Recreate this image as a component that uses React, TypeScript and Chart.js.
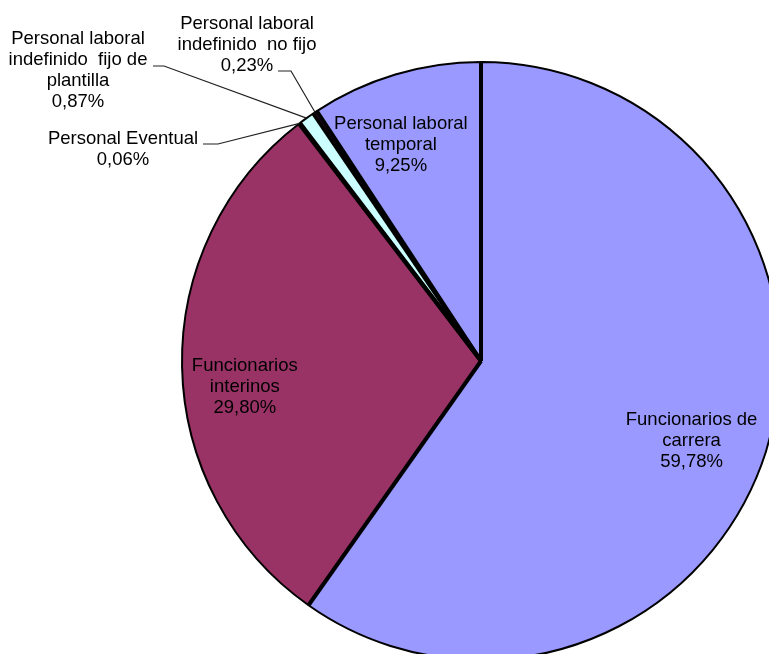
import React, { useEffect, useRef } from "react";
import { Chart, registerables } from "chart.js";

Chart.register(...registerables);

// ---- data ----
const categories = [
  "Funcionarios de carrera",
  "Funcionarios interinos",
  "Personal Eventual",
  "Personal laboral indefinido fijo de plantilla",
  "Personal laboral indefinido no fijo",
  "Personal laboral temporal",
];
const labelLines = [
  ["Funcionarios de", "carrera"],
  ["Funcionarios", "interinos"],
  ["Personal Eventual"],
  ["Personal laboral", "indefinido  fijo de", "plantilla"],
  ["Personal laboral", "indefinido  no fijo"],
  ["Personal laboral", "temporal"],
];
const values = [59.78, 29.8, 0.06, 0.87, 0.23, 9.25];

// ---- styles / layout ----
const colors = ["#9999FF", "#993366", "#FFFFCC", "#CCFFFF", "#660066", "#9999FF"];
const FONT = '18.5px "Liberation Sans", Arial, sans-serif';
const LINE_H = 21;
const CANVAS_W = 962;
const CANVAS_H = 722;
const RADIUS = 299;

// inside labels: radial fraction of radius + small nudge
const insideLayout: Record<number, { frac: number; dx: number; dy: number }> = {
  0: { frac: 0.76, dx: -6, dy: 11 },
  1: { frac: 0.76, dx: -9, dy: 21 },
  5: { frac: 0.76, dx: -15, dy: 2 },
};
// outside labels: text block centre, leader start and elbow
const outsideLayout: Record<number, { cx: number; cy: number; sx: number; sy: number; ex: number; ey: number }> = {
  2: { cx: 123, cy: 149, sx: 203, sy: 144, ex: 218, ey: 144 },
  3: { cx: 78, cy: 70.5, sx: 153, sy: 66, ex: 164, ey: 66 },
  4: { cx: 247, cy: 45, sx: 278, sy: 71, ex: 291, ey: 71 },
};

const fmt = (v: number) => v.toFixed(2).replace(".", ",") + "%";

const labelPlugin = {
  id: "pieLabels",
  afterDatasetsDraw(chart: any) {
    const ctx = chart.ctx as CanvasRenderingContext2D;
    const meta = chart.getDatasetMeta(0);
    ctx.save();
    // thick separators between slices
    meta.data.forEach((arc: any) => {
      const { x, y, startAngle, outerRadius } = arc.getProps(["x", "y", "startAngle", "outerRadius"], true);
      ctx.beginPath();
      ctx.moveTo(x, y);
      ctx.lineTo(x + outerRadius * Math.cos(startAngle), y + outerRadius * Math.sin(startAngle));
      ctx.lineWidth = 4;
      ctx.strokeStyle = "#000";
      ctx.lineCap = "butt";
      ctx.stroke();
    });

    ctx.font = FONT;
    ctx.fillStyle = "#000";
    ctx.textAlign = "center";
    ctx.textBaseline = "middle";
    meta.data.forEach((arc: any, i: number) => {
      const { x, y, startAngle, endAngle, outerRadius } = arc.getProps(
        ["x", "y", "startAngle", "endAngle", "outerRadius"],
        true
      );
      const mid = (startAngle + endAngle) / 2;
      const lines = [...labelLines[i], fmt(values[i])];
      let cx: number, cy: number;
      if (insideLayout[i]) {
        const L = insideLayout[i];
        cx = x + L.frac * outerRadius * Math.cos(mid) + L.dx;
        cy = y + L.frac * outerRadius * Math.sin(mid) + L.dy;
      } else {
        const L = outsideLayout[i];
        cx = L.cx;
        cy = L.cy;
        // leader line
        ctx.beginPath();
        ctx.moveTo(L.sx, L.sy);
        ctx.lineTo(L.ex, L.ey);
        ctx.lineTo(x + outerRadius * Math.cos(mid), y + outerRadius * Math.sin(mid));
        ctx.lineWidth = 1.2;
        ctx.strokeStyle = "#222";
        ctx.stroke();
      }
      const top = cy - ((lines.length - 1) * LINE_H) / 2;
      lines.forEach((t, k) => ctx.fillText(t, cx, top + k * LINE_H));
    });
    ctx.restore();
  },
};

export default function App() {
  const ref = useRef<HTMLCanvasElement | null>(null);
  useEffect(() => {
    if (!ref.current) return;
    const chart = new Chart(ref.current, {
      type: "pie",
      data: {
        labels: categories,
        datasets: [
          {
            data: values,
            backgroundColor: colors,
            borderColor: "#000",
            borderWidth: 2,
          },
        ],
      },
      options: {
        responsive: false,
        animation: false,
        devicePixelRatio: 1,
        radius: RADIUS,
        layout: { padding: 0 },
        plugins: {
          legend: { display: false },
          tooltip: { enabled: false },
        },
        events: [],
      } as any,
      plugins: [labelPlugin],
    });
    return () => chart.destroy();
  }, []);
  return (
    <div
      style={{
        position: "fixed",
        left: 0,
        top: 0,
        width: 769,
        height: 654,
        overflow: "hidden",
        background: "#fff",
      }}
    >
      <canvas ref={ref} width={CANVAS_W} height={CANVAS_H} style={{ display: "block", width: CANVAS_W, height: CANVAS_H }} />
    </div>
  );
}
